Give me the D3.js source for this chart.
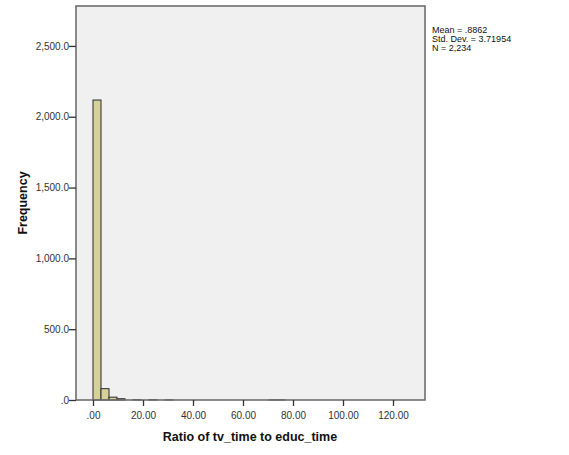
<!DOCTYPE html>
<html>
<head>
<meta charset="utf-8">
<script src="https://cdn.jsdelivr.net/npm/d3@7"></script>
<style>
  body { margin: 0; background: #fff; }
  svg { font-family: Arial, "Liberation Sans", sans-serif; }
</style>
</head>
<body>
<div id="chart"></div>
<script>
// histogram of ratio tv_time / educ_time (SPSS style)
var binWidth = 3.2;
var binCounts = [2118, 80, 20, 9, 0, 2, 0, 2, 0, 1, 0, 0, 0, 0, 0, 0, 0, 0, 0, 0, 0, 0, 1, 1];
var xTicks = [0, 20, 40, 60, 80, 100, 120];
var yTicks = [0, 500, 1000, 1500, 2000, 2500];
var statsLines = ["Mean = .8862", "Std. Dev. = 3.71954", "N = 2,234"];

var width = 569, height = 455;
var plot = { left: 76, right: 425, top: 6, bottom: 400 };

var svg = d3.select("#chart").append("svg")
    .attr("width", width)
    .attr("height", height);

var x = d3.scaleLinear().domain([-6.8, 132.8]).range([plot.left, plot.right]);
var y = d3.scaleLinear().domain([0, 2782]).range([plot.bottom, plot.top]);

// plot background
svg.append("rect")
    .attr("x", plot.left).attr("y", plot.top)
    .attr("width", plot.right - plot.left)
    .attr("height", plot.bottom - plot.top)
    .attr("fill", "#f0f0f0");

// bars
var bins = binCounts.map(function(c, i) {
    return { x0: i * binWidth, x1: (i + 1) * binWidth, count: c };
}).filter(function(d) { return d.count > 0; });

svg.selectAll("rect.bar").data(bins).enter()
    .append("rect")
    .attr("class", "bar")
    .attr("x", function(d) { return x(d.x0); })
    .attr("y", function(d) { return y(d.count); })
    .attr("width", function(d) { return x(d.x1) - x(d.x0); })
    .attr("height", function(d) { return y(0) - y(d.count); })
    .attr("fill", "#d6d09a")
    .attr("stroke", "#2a2a2a")
    .attr("stroke-width", 1);

// frame
svg.append("rect")
    .attr("x", plot.left).attr("y", plot.top)
    .attr("width", plot.right - plot.left)
    .attr("height", plot.bottom - plot.top)
    .attr("fill", "none")
    .attr("stroke", "#6e6e6e")
    .attr("stroke-width", 1.6);

// axes
var xAxis = d3.axisBottom(x).tickValues(xTicks).tickSize(6).tickSizeOuter(0)
    .tickFormat(function(d) { return d === 0 ? ".00" : d.toFixed(2); });
var yAxis = d3.axisLeft(y).tickValues(yTicks).tickSize(7).tickSizeOuter(0)
    .tickFormat(function(d) { return d === 0 ? ".0" : d3.format(",.1f")(d); });

var gx = svg.append("g")
    .attr("transform", "translate(0," + plot.bottom + ")")
    .call(xAxis);
var gy = svg.append("g")
    .attr("transform", "translate(" + plot.left + ",0)")
    .call(yAxis);

[gx, gy].forEach(function(g) {
    g.select(".domain").remove();
    g.selectAll(".tick line").attr("stroke", "#333").attr("stroke-width", 1.3);
    g.selectAll(".tick text").attr("fill", "#333").style("font-size", "10px");
});
gx.selectAll(".tick text").attr("dy", "0.95em");
gy.selectAll(".tick text").attr("x", -7);

// axis titles
svg.append("text")
    .attr("x", 250).attr("y", 441)
    .attr("text-anchor", "middle")
    .style("font-size", "12.5px").style("font-weight", "bold")
    .attr("fill", "#111")
    .text("Ratio of tv_time to educ_time");

svg.append("text")
    .attr("transform", "translate(27,203) rotate(-90)")
    .attr("text-anchor", "middle")
    .style("font-size", "12.5px").style("font-weight", "bold")
    .attr("fill", "#111")
    .text("Frequency");

// stats box text
svg.selectAll("text.stat").data(statsLines).enter()
    .append("text")
    .attr("class", "stat")
    .attr("x", 432)
    .attr("y", function(d, i) { return 33 + i * 9; })
    .style("font-size", "9px")
    .attr("fill", "#111")
    .text(function(d) { return d; });
</script>
</body>
</html>
